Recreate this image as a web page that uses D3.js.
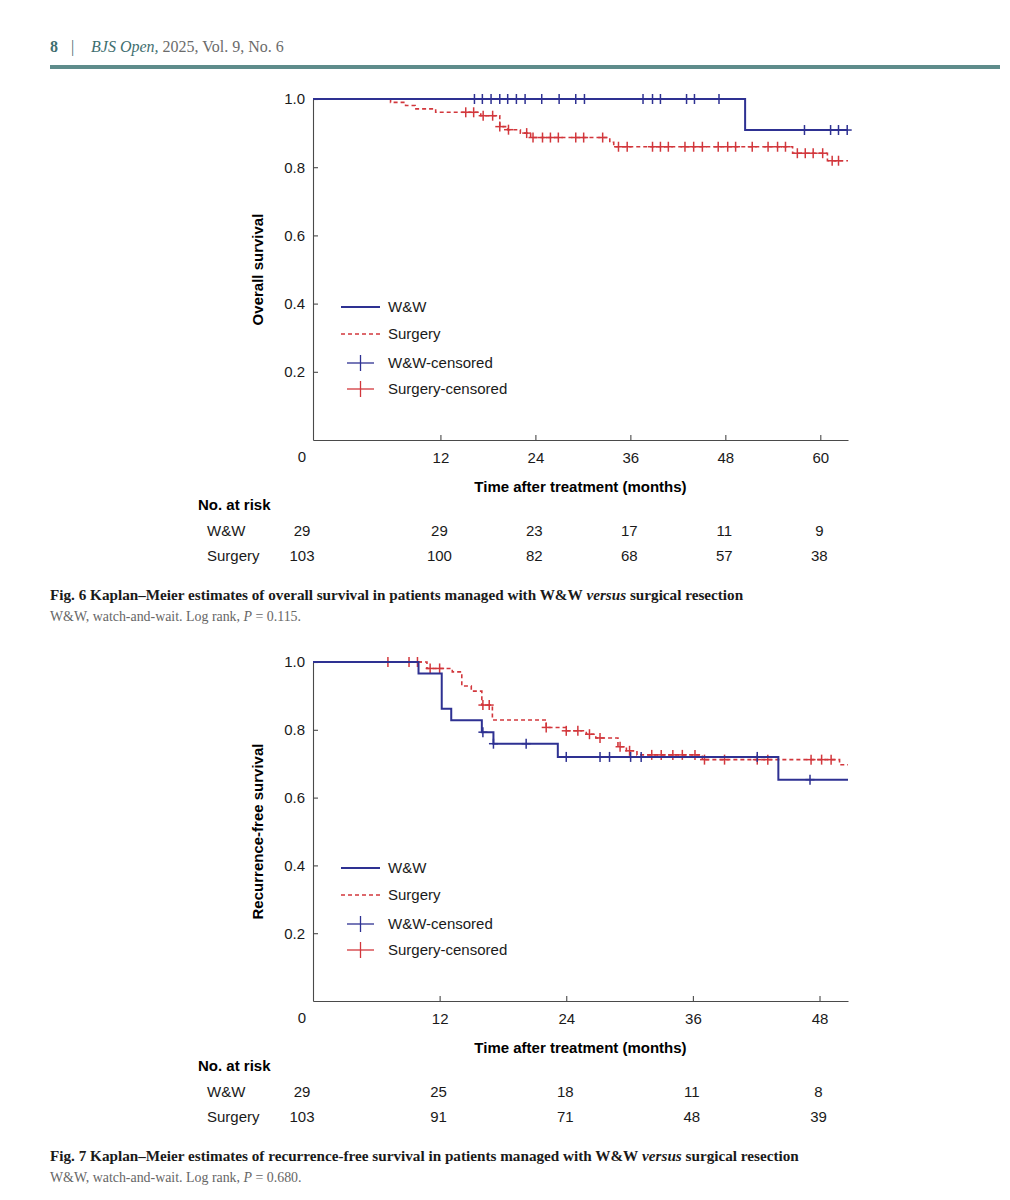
<!DOCTYPE html>
<html>
<head>
<meta charset="utf-8">
<script src="https://cdn.jsdelivr.net/npm/d3@7"></script>
<style>
  body { margin: 0; background: #fff; }
</style>
</head>
<body>
<div id="page"></div>
<script>
// ---- data: Fig. 6, overall survival ----
const OS_TICKS = [12, 24, 36, 48, 60];
const OS_WW_STEPS = [[50.5, 0.909]];   // [month, survival after the drop]
const OS_WW_CENSORED = [16.3, 17.3, 18.4, 19.5, 20.5, 21.6, 22.7, 24.8, 27.0, 29.1, 30.2,
                        37.6, 38.8, 39.8, 43.1, 44.1, 47.2, 58.0, 61.3, 62.3, 63.4];
const OS_SURG_STEPS = [[5.7, 0.990], [7.6, 0.981], [8.8, 0.971], [11.4, 0.961], [17.1, 0.951],
                       [19.5, 0.919], [20.5, 0.910], [22.1, 0.900], [23.4, 0.887], [33.4, 0.873],
                       [33.9, 0.860], [56.5, 0.841], [60.9, 0.819]];
const OS_SURG_CENSORED = [15.2, 16.2, 17.4, 18.6, 19.5, 20.6, 22.9, 23.7, 24.9, 25.9, 26.9, 29.1,
                          30.1, 32.5, 34.5, 35.6, 38.8, 39.8, 40.8, 42.9, 44.0, 45.1, 47.1, 48.3,
                          49.3, 51.4, 53.4, 54.6, 55.6, 57.1, 58.1, 59.1, 60.3, 61.5, 62.3];
const OS_RISK_TIMES = [0, 12, 24, 36, 48, 60];
const OS_RISK_WW = [29, 29, 23, 17, 11, 9];
const OS_RISK_SURG = [103, 100, 82, 68, 57, 38];

// ---- data: Fig. 7, recurrence-free survival ----
const RFS_TICKS = [12, 24, 36, 48];
const RFS_WW_STEPS = [[10.0, 0.966], [12.2, 0.862], [13.1, 0.828], [16.0, 0.793], [17.1, 0.759],
                      [23.2, 0.720], [44.1, 0.653]];
const RFS_WW_CENSORED = [16.1, 17.1, 20.2, 24.0, 27.2, 28.1, 30.1, 31.1, 42.1, 47.1];
const RFS_SURG_STEPS = [[10.8, 0.981], [13.2, 0.971], [14.1, 0.929], [15.0, 0.914], [16.0, 0.873],
                        [17.0, 0.829], [22.1, 0.807], [24.0, 0.797], [25.9, 0.787], [26.8, 0.776],
                        [28.9, 0.750], [29.7, 0.738], [30.7, 0.726], [36.9, 0.712], [49.9, 0.697]];
const RFS_SURG_CENSORED = [7.1, 9.1, 9.9, 11.1, 12.0, 16.1, 16.7, 22.1, 24.0, 25.1, 26.2, 27.2,
                           29.1, 30.0, 32.1, 33.0, 34.1, 35.0, 36.2, 37.1, 39.0, 42.1, 43.1,
                           47.2, 48.2, 49.1];
const RFS_RISK_TIMES = [0, 12, 24, 36, 48];
const RFS_RISK_WW = [29, 25, 18, 11, 8];
const RFS_RISK_SURG = [103, 91, 71, 48, 39];

const Y_TICKS = [0.2, 0.4, 0.6, 0.8, 1.0];
const LEGEND_LABELS = ["W&W", "Surgery", "W&W-censored", "Surgery-censored"];

const BLUE = "#2e3192";
const RED = "#d2373c";
const SANS = "'Liberation Sans', Arial, Helvetica, sans-serif";
const SERIF = "'Liberation Serif', 'DejaVu Serif', serif";
const FS = "15px";

const svg = d3.select("#page")
    .append("svg")
        .attr("width", 1010)
        .attr("height", 1200)
        .style("font-family", SANS);

// page header
const header = svg.append("g")
    .style("font-family", SERIF)
    .style("font-size", "16px");
header.append("text").attr("x", 50).attr("y", 52).text("8")
    .attr("fill", "#3f6f70").style("font-weight", "bold");
header.append("text").attr("x", 71).attr("y", 52).text("|").attr("fill", "#3f6f70");
const headTxt = header.append("text").attr("x", 91).attr("y", 52);
headTxt.append("tspan").text("BJS Open,").attr("fill", "#3f6f70").style("font-style", "italic");
headTxt.append("tspan").text(" 2025, Vol. 9, No. 6").attr("fill", "#6b6b6b");

svg.append("rect")
    .attr("x", 50).attr("y", 65)
    .attr("width", 950).attr("height", 4)
    .attr("fill", "#5e8c8b");

// survival after all drops up to time t
function survivalAt(steps, t) {
    let s = 1;
    for (let st of steps) {
        if (st[0] <= t + 1e-9) s = st[1];
    }
    return s;
}

function drawKM(cfg) {
    const g = svg.append("g");
    const x = d3.scaleLinear().domain(cfg.xDomain).range([313, 848]);
    const y = d3.scaleLinear().domain([0, 1]).range([cfg.bottom, cfg.top]);

    // axes, inward ticks like the SPSS output
    const xAxis = g.append("g")
        .attr("transform", `translate(0,${cfg.bottom})`)
        .call(d3.axisBottom(x).tickValues(cfg.ticks).tickSizeInner(-5).tickSizeOuter(0).tickPadding(12));
    const yAxis = g.append("g")
        .attr("transform", "translate(313,0)")
        .call(d3.axisLeft(y).tickValues(Y_TICKS).tickFormat(d3.format(".1f")).tickSizeInner(-5).tickSizeOuter(0).tickPadding(8));

    [xAxis, yAxis].forEach(a => {
        a.selectAll("path, line").attr("stroke", "#4a4a4a").attr("stroke-width", 1.1);
        a.selectAll("text").attr("fill", "#1a1a1a").style("font-size", FS).style("font-family", SANS);
    });

    // the "0" label sits left of the axis, in the at-risk column
    const zeroX = x(cfg.xDomain[0]) - 11;
    g.append("text")
        .attr("x", zeroX)
        .attr("y", cfg.bottom + 22)
        .attr("text-anchor", "middle")
        .style("font-size", FS)
        .attr("fill", "#1a1a1a")
        .text("0");

    // axis titles
    g.append("text")
        .attr("x", (x.range()[0] + x.range()[1]) / 2)
        .attr("y", cfg.bottom + 52)
        .attr("text-anchor", "middle")
        .style("font-size", FS)
        .style("font-weight", "bold")
        .text("Time after treatment (months)");

    g.append("text")
        .attr("transform", `translate(263,${(cfg.top + cfg.bottom) / 2}) rotate(-90)`)
        .attr("text-anchor", "middle")
        .style("font-size", FS)
        .style("font-weight", "bold")
        .text(cfg.yTitle);

    // curves
    const line = d3.line()
        .x(d => x(d[0]))
        .y(d => y(d[1]))
        .curve(d3.curveStepAfter);

    const series = [
        {steps: cfg.surgSteps, censored: cfg.surgCensored, color: RED, dash: "4,3", width: 1.6},
        {steps: cfg.wwSteps, censored: cfg.wwCensored, color: BLUE, dash: null, width: 2}
    ];

    series.forEach(s => {
        let pts = [[cfg.xDomain[0], 1]].concat(s.steps);
        pts.push([cfg.xDomain[1], s.steps[s.steps.length - 1][1]]);

        g.append("path")
            .datum(pts)
            .attr("d", line)
            .attr("fill", "none")
            .attr("stroke", s.color)
            .attr("stroke-width", s.width)
            .attr("stroke-dasharray", s.dash);

        const marks = g.append("g")
            .selectAll("g")
            .data(s.censored)
            .enter()
            .append("g")
                .attr("transform", d => `translate(${x(d)},${y(survivalAt(s.steps, d))})`)
                .attr("stroke", s.color)
                .attr("stroke-width", 1.5);
        marks.append("line").attr("x1", -4.5).attr("x2", 4.5);
        marks.append("line").attr("y1", -5).attr("y2", 5);
    });

    // legend
    const legend = g.append("g").attr("transform", `translate(0,${cfg.legendTop})`);
    const offsets = [0, 27, 56, 82];
    LEGEND_LABELS.forEach((lab, i) => {
        const row = legend.append("g").attr("transform", `translate(0,${offsets[i]})`);
        if (i < 2) {
            row.append("line")
                .attr("x1", 341).attr("x2", 380)
                .attr("stroke", i === 0 ? BLUE : RED)
                .attr("stroke-width", i === 0 ? 1.8 : 1.5)
                .attr("stroke-dasharray", i === 0 ? null : "4,3");
        } else {
            const c = i === 2 ? BLUE : RED;
            row.append("line").attr("x1", 347).attr("x2", 374).attr("stroke", c).attr("stroke-width", 1.3);
            row.append("line").attr("x1", 360.5).attr("x2", 360.5).attr("y1", -8).attr("y2", 8).attr("stroke", c).attr("stroke-width", 1.3);
        }
        row.append("text")
            .attr("x", 388)
            .attr("y", 5)
            .style("font-size", FS)
            .attr("fill", "#1a1a1a")
            .text(lab);
    });

    // number at risk
    const risk = g.append("g").attr("transform", `translate(0,${cfg.riskTop})`);
    risk.append("text")
        .attr("x", 198).attr("y", 0)
        .style("font-size", FS).style("font-weight", "bold")
        .text("No. at risk");

    const rows = [["W&W", cfg.riskWW], ["Surgery", cfg.riskSurg]];
    rows.forEach((r, i) => {
        const yy = 26 + i * 25;
        risk.append("text")
            .attr("x", 207).attr("y", yy)
            .style("font-size", FS)
            .attr("fill", "#1a1a1a")
            .text(r[0]);
        risk.selectAll(null)
            .data(r[1])
            .enter()
            .append("text")
                .attr("x", (d, j) => cfg.riskTimes[j] === 0 ? zeroX : x(cfg.riskTimes[j]) - 1)
                .attr("y", yy)
                .attr("text-anchor", "middle")
                .style("font-size", FS)
                .attr("fill", "#1a1a1a")
                .text(d => d);
    });

    // caption
    const cap = g.append("text")
        .attr("x", 50)
        .attr("y", cfg.captionTop)
        .style("font-family", SERIF)
        .style("font-size", "15.2px")
        .style("font-weight", "bold")
        .attr("fill", "#1a1a1a");
    cap.append("tspan").text(cfg.figLabel + " ");
    cap.append("tspan").text(cfg.caption);
    cap.append("tspan").text(" versus ").style("font-style", "italic");
    cap.append("tspan").text("surgical resection");

    const note = g.append("text")
        .attr("x", 50)
        .attr("y", cfg.captionTop + 21)
        .style("font-family", SERIF)
        .style("font-size", "13.9px")
        .attr("fill", "#666");
    note.append("tspan").text("W&W, watch-and-wait. Log rank, ");
    note.append("tspan").text("P").style("font-style", "italic");
    note.append("tspan").text(" = " + cfg.pValue + ".");
}

drawKM({
    xDomain: [-4.1, 63.5], ticks: OS_TICKS, top: 99, bottom: 440,
    yTitle: "Overall survival",
    wwSteps: OS_WW_STEPS, wwCensored: OS_WW_CENSORED,
    surgSteps: OS_SURG_STEPS, surgCensored: OS_SURG_CENSORED,
    legendTop: 307, riskTop: 510,
    riskTimes: OS_RISK_TIMES, riskWW: OS_RISK_WW, riskSurg: OS_RISK_SURG,
    captionTop: 600, figLabel: "Fig. 6",
    caption: "Kaplan–Meier estimates of overall survival in patients managed with W&W",
    pValue: "0.115"
});

drawKM({
    xDomain: [0, 50.7], ticks: RFS_TICKS, top: 662, bottom: 1001,
    yTitle: "Recurrence-free survival",
    wwSteps: RFS_WW_STEPS, wwCensored: RFS_WW_CENSORED,
    surgSteps: RFS_SURG_STEPS, surgCensored: RFS_SURG_CENSORED,
    legendTop: 868, riskTop: 1071,
    riskTimes: RFS_RISK_TIMES, riskWW: RFS_RISK_WW, riskSurg: RFS_RISK_SURG,
    captionTop: 1161, figLabel: "Fig. 7",
    caption: "Kaplan–Meier estimates of recurrence-free survival in patients managed with W&W",
    pValue: "0.680"
});
</script>
</body>
</html>
